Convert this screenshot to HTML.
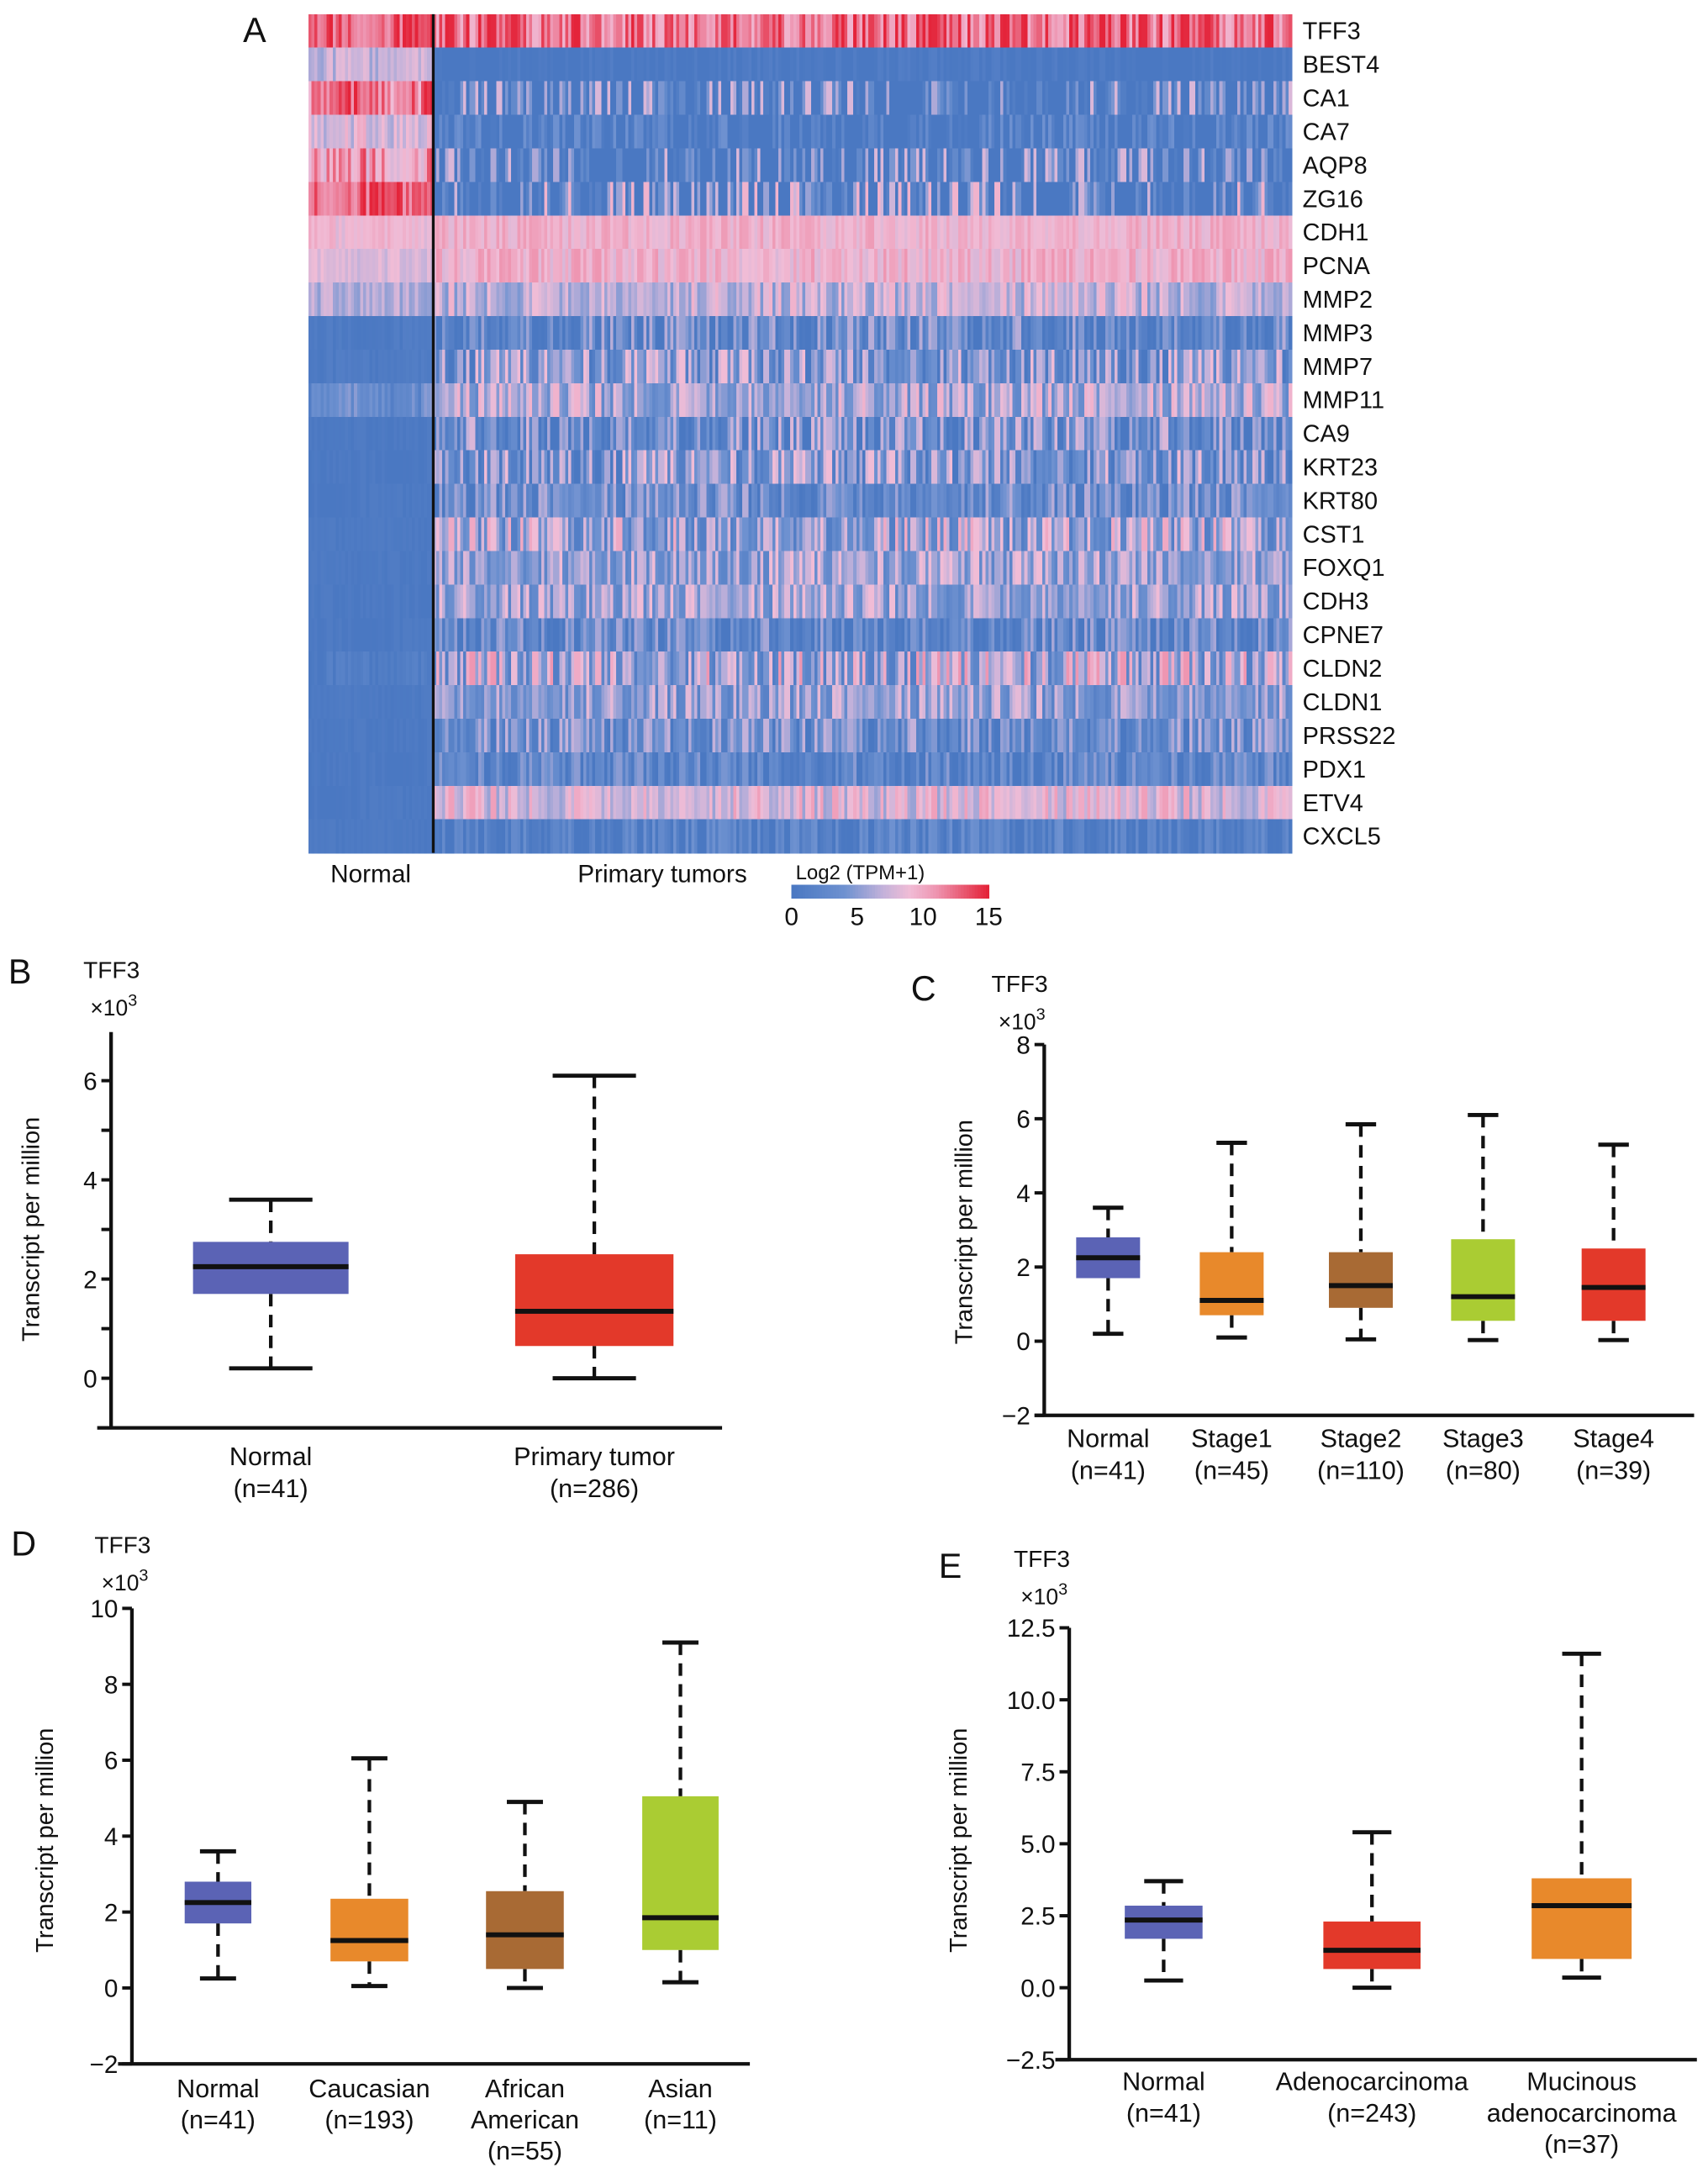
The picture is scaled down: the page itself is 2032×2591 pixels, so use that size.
<!DOCTYPE html>
<html><head><meta charset="utf-8">
<style>
html,body{margin:0;padding:0;background:#fff;}
svg{display:block;font-family:"Liberation Sans",Arial,sans-serif;}
</style></head>
<body>
<svg id="fig" xmlns="http://www.w3.org/2000/svg" width="2032" height="2591" viewBox="0 0 1230 1568">
<rect x="0" y="0" width="1230" height="1568" fill="#fff"/>
<g id="heat"></g>
<g id="boxes"></g>
</svg>
<script>
// ---------- Heatmap data ----------
const genes = ["TFF3","BEST4","CA1","CA7","AQP8","ZG16","CDH1","PCNA","MMP2","MMP3","MMP7","MMP11","CA9","KRT23","KRT80","CST1","FOXQ1","CDH3","CPNE7","CLDN2","CLDN1","PRSS22","PDX1","ETV4","CXCL5"];
const normalLevel = [13,7,12,8,11,13,9,8,6.5,0.5,0.5,3,0.3,0.3,0.3,0.3,0.3,0.3,0.3,0.6,0.3,0.3,0.3,0.3,0.3];
const normalSpread = [2,1.5,3,2,3,2,1,1,1.5,0.5,0.5,2,0.4,0.4,0.4,0.4,0.4,0.4,0.4,1,0.4,0.4,0.4,0.4,0.4];
const tumorLevel = [12.5,0,0,0,0,0.5,9.5,9.5,7,2.5,4.5,6,3.5,4.5,3,5.5,5.5,5.5,2.5,6,5,3.5,2,8,1.5];
const tumorSpread = [3,1,8,4,8,9,1.2,1.5,2.5,4,4.5,3.5,4.5,4.5,3.5,4.5,3.5,3.5,3.5,5,3.5,3.5,3,2.5,2.5];
const variation = "529603184772059136482507931642805719362408371596248035719604285317964025837196420583716942053871694";
const nNormal = 41, nTumor = 286;
const cbTicks = [0,5,10,15];

// ---------- Boxplot data ----------
const bCats = [["Normal","(n=41)"],["Primary tumor","(n=286)"]];
const bMin = [0.2,0]; const bQ1 = [1.7,0.65]; const bMed = [2.25,1.35]; const bQ3 = [2.75,2.5]; const bMax = [3.6,6.1];
const bTicks = [0,2,4,6];

const cCats = [["Normal","(n=41)"],["Stage1","(n=45)"],["Stage2","(n=110)"],["Stage3","(n=80)"],["Stage4","(n=39)"]];
const cMin = [0.2,0.1,0.05,0.03,0.03]; const cQ1 = [1.7,0.7,0.9,0.55,0.55]; const cMed = [2.25,1.1,1.5,1.2,1.45]; const cQ3 = [2.8,2.4,2.4,2.75,2.5]; const cMax = [3.6,5.35,5.85,6.1,5.3];
const cTicks = [-2,0,2,4,6,8];

const dCats = [["Normal","(n=41)"],["Caucasian","(n=193)"],["African","American","(n=55)"],["Asian","(n=11)"]];
const dMin = [0.25,0.05,0,0.15]; const dQ1 = [1.7,0.7,0.5,1.0]; const dMed = [2.25,1.25,1.4,1.85]; const dQ3 = [2.8,2.35,2.55,5.05]; const dMax = [3.6,6.05,4.9,9.1];
const dTicks = [-2,0,2,4,6,8,10];

const eCats = [["Normal","(n=41)"],["Adenocarcinoma","(n=243)"],["Mucinous","adenocarcinoma","(n=37)"]];
const eMin = [0.25,0,0.35]; const eQ1 = [1.7,0.65,1.0]; const eMed = [2.35,1.3,2.85]; const eQ3 = [2.85,2.3,3.8]; const eMax = [3.7,5.4,11.6];
const eTicks = [-2.5,0,2.5,5,7.5,10,12.5];
const eTickLabels = ["\u22122.5","0.0","2.5","5.0","7.5","10.0","12.5"];

const NS = "http://www.w3.org/2000/svg";
function mk(tag, attrs, parent){
  const e = document.createElementNS(NS, tag);
  for (const k in attrs) e.setAttribute(k, attrs[k]);
  parent.appendChild(e);
  return e;
}
function txt(s, attrs, parent){ const t = mk("text", attrs, parent); t.textContent = s; return t; }

const stops = [[0,[74,120,194]],[4,[110,145,208]],[7,[196,178,218]],[9,[240,188,214]],[11,[238,150,178]],[15,[228,36,58]]];
function cmap(v){
  v = Math.max(0, Math.min(15, v));
  for (let i=1;i<stops.length;i++){
    if (v <= stops[i][0]){
      const a=stops[i-1], b=stops[i], t=(v-a[0])/(b[0]-a[0]);
      const c=a[1].map((x,j)=>Math.round(x+(b[1][j]-x)*t));
      return "rgb("+c.join(",")+")";
    }
  }
  return "rgb(228,36,58)";
}

// ---------- Heatmap ----------
const heat = document.getElementById("heat");
const hx0 = 222, hxDiv = 312, hx1 = 930, hy0 = 10, hy1 = 614;
const rowH = (hy1-hy0)/genes.length;
const nW = (hxDiv-hx0)/nNormal, tW = (hx1-hxDiv)/nTumor;
function dv(i){ return (parseInt(variation[i % variation.length]) - 4.5)/4.5; }
genes.forEach((g, r) => {
  const y = hy0 + r*rowH;
  const row = mk("g", {}, heat);
  
  
  for (let c=0;c<nNormal;c++){
    const v = normalLevel[r] + normalSpread[r]*dv(c*5 + r*11);
    mk("rect",{x:(hx0+c*nW).toFixed(2),y:y.toFixed(2),width:(nW+0.6).toFixed(2),height:(rowH+0.6).toFixed(2),fill:cmap(v),"shape-rendering":"crispEdges"},row);
  }
  for (let c=0;c<nTumor;c++){
    const v = tumorLevel[r] + tumorSpread[r]*dv(c*3 + r*17 + ((c*c)%7));
    mk("rect",{x:(hxDiv+c*tW).toFixed(2),y:y.toFixed(2),width:(tW+0.6).toFixed(2),height:(rowH+0.6).toFixed(2),fill:cmap(v),"shape-rendering":"crispEdges"},row);
  }
  const lab = txt(g,{x:938,y:(y+rowH/2+6).toFixed(1),"font-size":17.5,fill:"#111"},heat);
  
  
});
const divl = mk("line",{x1:hxDiv,x2:hxDiv,y1:hy0,y2:hy1,stroke:"#111","stroke-width":2},heat);


let t;
t = txt("A",{x:175,y:30,"font-size":25,fill:"#111"},heat);
 
t = txt("Normal",{x:238,y:635,"font-size":18,fill:"#111"},heat);
 
t = txt("Primary tumors",{x:416,y:635,"font-size":18,fill:"#111"},heat);
 
t = txt("Log2 (TPM+1)",{x:573,y:633,"font-size":14.5,fill:"#111"},heat);
 
const cbx0 = 570, cbx1 = 712, cby = 637, cbh = 10;
const cb = mk("g",{},heat);
 
for (let i=0;i<71;i++){
  const v = i*15/70;
  mk("rect",{x:(cbx0+i*(cbx1-cbx0)/71).toFixed(2),y:cby,width:((cbx1-cbx0)/71+0.5).toFixed(2),height:cbh,fill:cmap(v),"shape-rendering":"crispEdges"},cb);
}
cbTicks.forEach(v=>{
  const x = cbx0 + (v/15)*(cbx1-cbx0);
  const tl = txt(String(v),{x:x.toFixed(1),y:666,"font-size":18,"text-anchor":"middle",fill:"#111"},cb);
   
});

// ---------- Boxplots ----------
const boxes = document.getElementById("boxes");
const NORMAL_C="#5b63b5", RED="#e3392a", ORANGE="#e8892b", BROWN="#a86a34", GREEN="#aacc33";
function panel(p){
  const g = mk("g",{},boxes);
  
  
  const Y = v => p.yTopPx + (p.vmax - v)/(p.vmax - p.vmin)*(p.yBotPx - p.yTopPx);
  const ya = mk("line",{x1:p.ax,x2:p.ax,y1:p.yTopPx,y2:p.yBotPx+1,stroke:"#111","stroke-width":2.6},g);
   
  const xa = mk("line",{x1:p.xaStart,x2:p.xaEnd,y1:p.yBotPx,y2:p.yBotPx,stroke:"#111","stroke-width":2.6},g);
   
  (p.minor||[]).forEach(v=>{
    mk("line",{x1:p.ax-7,x2:p.ax,y1:Y(v),y2:Y(v),stroke:"#111","stroke-width":2.4},g);
  });
  p.ticks.forEach((v,i)=>{
    mk("line",{x1:p.ax-7,x2:p.ax,y1:Y(v),y2:Y(v),stroke:"#111","stroke-width":2.4},g);
    const lab = p.tickLabels ? p.tickLabels[i] : (v<0 ? "\u2212"+Math.abs(v) : String(v));
    const tl = txt(lab,{x:p.ax-10,y:(Y(v)+6.5).toFixed(1),"font-size":18,"text-anchor":"end",fill:"#111"},g);
     
  });
  t = txt(p.id.toUpperCase(),{x:p.letter[0],y:p.letter[1],"font-size":25,fill:"#111"},g);
   
  t = txt("TFF3",{x:p.title[0],y:p.title[1],"font-size":17,fill:"#111"},g);
   
  t = mk("text",{x:p.title[0]+5,y:p.title[1]+27,"font-size":16,fill:"#111"},g);
  t.innerHTML = '\u00d710<tspan dy="-7" font-size="12">3</tspan>';
   
  t = txt("Transcript per million",{x:0,y:0,"font-size":17.5,"text-anchor":"middle",fill:"#111",transform:"translate("+p.ylabX+","+p.ylabY+") rotate(-90)"},g);
   
  p.cats.forEach((cat,i)=>{
    const cx = p.centers[i], w = p.widths[i], cw = p.cap;
    const bg = mk("g",{},g);
    
    
    mk("line",{x1:cx,x2:cx,y1:Y(p.max[i]),y2:Y(p.q3[i]),stroke:"#111","stroke-width":2.6,"stroke-dasharray":"9,6"},bg);
    mk("line",{x1:cx,x2:cx,y1:Y(p.q1[i]),y2:Y(p.min[i]),stroke:"#111","stroke-width":2.6,"stroke-dasharray":"9,6"},bg);
    mk("line",{x1:cx-cw/2,x2:cx+cw/2,y1:Y(p.max[i]),y2:Y(p.max[i]),stroke:"#111","stroke-width":3},bg);
    mk("line",{x1:cx-cw/2,x2:cx+cw/2,y1:Y(p.min[i]),y2:Y(p.min[i]),stroke:"#111","stroke-width":3},bg);
    mk("rect",{x:cx-w/2,y:Y(p.q3[i]),width:w,height:Y(p.q1[i])-Y(p.q3[i]),fill:p.colors[i]},bg);
    mk("line",{x1:cx-w/2,x2:cx+w/2,y1:Y(p.med[i]),y2:Y(p.med[i]),stroke:"#111","stroke-width":3.6},bg);
    cat.forEach((line,j)=>{
      const cl = txt(line,{x:cx,y:p.catY+j*p.catDy,"font-size":18.5,"text-anchor":"middle",fill:"#111"},bg);
       
    });
  });
}

panel({id:"b",ax:80,yTopPx:743,yBotPx:1028,vmin:-1,vmax:6.98,xaStart:70,xaEnd:520,ticks:bTicks,minor:[1,3,5],
  cats:bCats,min:bMin,q1:bQ1,med:bMed,q3:bQ3,max:bMax,centers:[195,428],widths:[112,114],cap:60,
  colors:[NORMAL_C,RED],catY:1055,catDy:23,letter:[6,708],title:[60,704],ylabX:28,ylabY:885});
panel({id:"c",ax:752,yTopPx:752,yBotPx:1019,vmin:-2,vmax:8,xaStart:745,xaEnd:1220,ticks:cTicks,
  cats:cCats,min:cMin,q1:cQ1,med:cMed,q3:cQ3,max:cMax,centers:[798,887,980,1068,1162],widths:[46,46,46,46,46],cap:22,
  colors:[NORMAL_C,ORANGE,BROWN,GREEN,RED],catY:1042,catDy:23,letter:[656,720],title:[714,714],ylabX:700,ylabY:887});
panel({id:"d",ax:95,yTopPx:1158,yBotPx:1486,vmin:-2,vmax:10,xaStart:85,xaEnd:540,ticks:dTicks,
  cats:dCats,min:dMin,q1:dQ1,med:dMed,q3:dQ3,max:dMax,centers:[157,266,378,490],widths:[48,56,56,55],cap:26,
  colors:[NORMAL_C,ORANGE,BROWN,GREEN],catY:1510,catDy:22.5,letter:[8,1120],title:[68,1118],ylabX:38,ylabY:1325});
panel({id:"e",ax:770,yTopPx:1172,yBotPx:1483,vmin:-2.5,vmax:12.5,xaStart:760,xaEnd:1222,ticks:eTicks,tickLabels:eTickLabels,
  cats:eCats,min:eMin,q1:eQ1,med:eMed,q3:eQ3,max:eMax,centers:[838,988,1139],widths:[56,70,72],cap:28,
  colors:[NORMAL_C,RED,ORANGE],catY:1505,catDy:22.5,letter:[676,1136],title:[730,1128],ylabX:696,ylabY:1325});
</script>
</body></html>
